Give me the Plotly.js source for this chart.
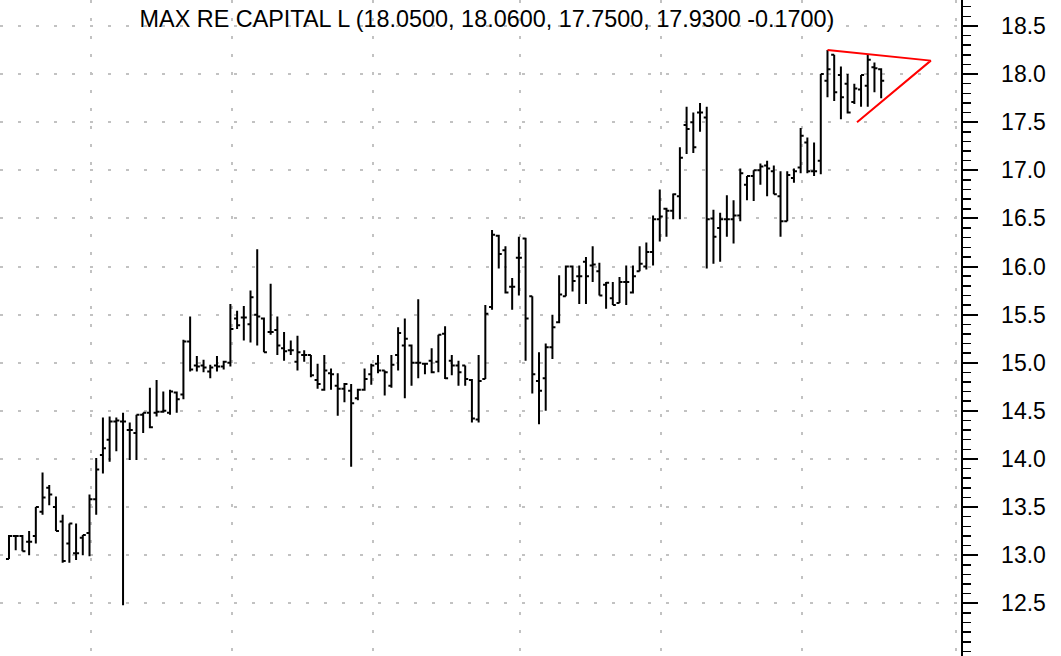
<!DOCTYPE html>
<html>
<head>
<meta charset="utf-8">
<script src="https://cdn.plot.ly/plotly-3.0.1.min.js"></script>
<style>body{margin:0;background:#fff}</style>
</head>
<body>
<div id="plot1" style="width:1061px;height:656px"></div>
<script>
// daily bars, oldest first
let openP = [12.96,13.2,13.2,13.14,13.2,13.45,13.7,13.5,13.35,13.12,
  13.02,13.18,13.23,13.58,14.04,14.2,14.39,14.39,14.3,14.27,
  14.46,14.48,14.48,14.49,14.48,14.69,14.67,15.22,14.97,14.97,
  14.91,14.97,14.96,15.0,15.46, 15.47,15.4,15.5,15.46,15.32,
  15.34,15.15,15.13,15.01,15.08, 15.08,14.82,14.72,14.89,14.76,
  14.73,14.71,14.63,14.72,14.88, 14.99,14.92,14.76,15.08,15.18,
  15.18,15.0,14.99,15.02,15.01, 15.3,15.02,14.97,14.97,14.82,
  14.41,14.83,15.58,16.32,16.17, 15.79,16.09,16.29,15.69,14.81,
  14.84,15.16,15.42,15.69,16.0, 15.9,16.05,16.01,15.95,15.81,
  15.67,15.62,15.84,15.73,15.95, 16.0,16.15,16.49,16.6,16.58,
  16.73,17.47,17.5,17.6,17.55, 16.5,16.4,16.49,16.49,16.53,
  16.85,16.94,17.0,17.05,16.99, 16.73,16.47,16.92,17.03,17.29,
  16.99,17.1,17.93,18.2,17.99, 17.9,17.71,17.84,17.88,18.07,
  18.05];

let highP = [13.21,13.21,13.21,13.25,13.5,13.86,13.73,13.61,13.42,13.33,
  13.33,13.21,13.63,14.01,14.43,14.44,14.43,14.48,14.38,14.46,
  14.48,14.74,14.82,14.7,14.72,14.7,15.24,15.48,15.07,15.03,
  14.98,15.07,15.02,15.61,15.54, 15.59,15.75,16.18,15.47,15.82,
  15.48,15.32,15.23,15.28,15.13, 15.08,14.99,15.08,14.94,14.89,
  14.79,14.78,14.73,14.94,14.99, 15.08,14.92,15.08,15.37,15.46,
  15.19,15.66,15.0,15.15,15.29, 15.38,15.08,15.02,14.97,14.83,
  15.08,15.6,16.38,16.33,16.21, 15.88,16.31,16.3,15.69,15.11,
  15.2,15.5,15.91,16.01,16.01, 16.01,16.1,16.21,16.04,15.84,
  15.84,15.89,16.01,16.01,16.21, 16.25,16.53,16.8,16.61,16.76,
  17.24,17.66,17.6,17.7,17.66, 16.59,16.56,16.74,16.69,17.02,
  16.94,17.0,17.07,17.1,17.05, 16.99,16.99,17.02,17.44,17.34,
  17.29,18.0,18.25,18.2,18.08, 18.0,17.9,17.99,18.2,18.12,
  18.06];

let lowP = [12.96,13.05,13.04,13.0,13.12,13.42,13.52,13.25,12.92,12.92,
  12.95,13.0,12.99,13.42,13.85,13.97,14.08,12.48,13.99,13.99,
  14.27,14.32,14.44,14.48,14.46,14.48,14.62,14.91,14.91,14.9,
  14.84,14.91,14.93,14.96,15.35, 15.23,15.21,15.18,15.11,15.29,
  15.08,15.02,15.08,14.92,15.01, 14.85,14.73,14.71,14.72,14.45,
  14.59,13.92,14.61,14.71,14.77, 14.89,14.66,14.74,14.92,14.63,
  14.76,14.84,14.88,14.89,14.9, 14.83,14.87,14.76,14.76,14.38,
  14.38,14.83,15.55,15.98,15.72, 15.55,15.7,15.02,14.68,14.36,
  14.5,15.04,15.41,15.69,15.74, 15.61,15.61,15.84,15.7,15.56,
  15.6,15.62,15.6,15.72,15.95, 15.97,16.01,16.26,16.31,16.49,
  16.49,17.17,17.18,17.4,15.98, 16.03,16.05,16.31,16.24,16.47,
  16.69,16.68,16.85,16.73,16.75, 16.31,16.47,16.87,16.97,16.97,
  16.94,16.96,17.76,17.72,17.53, 17.59,17.69,17.66,17.66,17.81,
  17.75];

let closeP = [13.2,13.2,13.04,13.14,13.5,13.6,13.63,13.25,12.94,13.33,
  13.02,13.21,13.58,13.89,14.11,14.39,14.4,14.39,14.3,14.46,
  14.48,14.33,14.49,14.5,14.7,14.62,15.22,14.93,14.96,14.95,
  14.95,14.96,15.01,15.35,15.39, 15.47,15.68,15.48,15.11,15.32,
  15.18,15.12,15.13,15.11,15.08, 14.87,14.78,14.92,14.88,14.73,
  14.78,14.58,14.72,14.83,14.97, 14.92,14.9,14.98,15.31,15.25,
  15.0,15.0,14.99,14.9,15.29, 14.84,14.97,14.9,14.83,14.42,
  14.81,15.51,16.33,16.13,15.73, 15.79,16.09,15.46,14.88,14.71,
  15.16,15.37,15.71,16.0,15.85, 15.9,15.9,16.02,15.7,15.83,
  15.6,15.84,15.84,15.9,16.03, 16.15,16.49,16.52,16.58,16.75,
  17.13,17.43,17.24,17.6,16.49, 16.31,16.49,16.49,16.53,16.97,
  16.94,17.0,17.04,17.02,16.75, 16.47,16.95,16.99,17.36,16.99,
  16.99,18.0,18.05,17.81,17.76, 17.6,17.85,17.99,18.15,18.06,
  17.93];

// bar number where each month starts (grid sits just before it)
let monthStarts = [13, 34, 55, 77, 98, 119, 142];

// price labels on the right axis
let priceTicks = [12.5,13.0,13.5,14.0,14.5,15.0,15.5,16.0,16.5,17.0,17.5,18.0,18.5];

// hand drawn triangle: upper line start, apex, lower line start
let triX = [122, 137.4, 126.4];
let triY = [18.25, 18.14, 17.5];

let barNo = openP.map((v, i) => i);
let gridX = monthStarts.map(m => m - 0.8);

let bars = {
  type: "ohlc",
  x: barNo,
  open: openP,
  high: highP,
  low: lowP,
  close: closeP,
  increasing: {line: {color: "black", width: 2}},
  decreasing: {line: {color: "black", width: 2}},
  tickwidth: 0.45,
  hoverinfo: "none"
};

let triangle = {
  type: "scatter",
  mode: "lines",
  x: triX,
  y: triY,
  line: {color: "#ff0000", width: 2},
  hoverinfo: "none"
};

var layout = {
  width: 1061,
  height: 656,
  margin: {l: 0, r: 100, t: 0, b: 0},
  paper_bgcolor: "white",
  plot_bgcolor: "white",
  showlegend: false,
  title: {
    text: "MAX RE CAPITAL L (18.0500, 18.0600, 17.7500, 17.9300 -0.1700)",
    font: {family: "Liberation Sans, Arial, sans-serif", size: 23.4, color: "black"},
    x: 0.459, xanchor: "center",
    y: 0.972, yanchor: "middle"
  },
  xaxis: {
    range: [-1.34, 141.9],
    tickvals: gridX,
    showticklabels: false,
    ticks: "",
    showgrid: true,
    gridcolor: "#c2c2c2",
    gridwidth: 2,
    griddash: "3px,15px",
    zeroline: false,
    showline: false,
    rangeslider: {visible: false},
    fixedrange: true
  },
  yaxis: {
    side: "right",
    range: [11.952, 18.77],
    tickvals: priceTicks,
    tickformat: ".1f",
    ticks: "outside",
    ticklen: 15,
    tickwidth: 2,
    tickcolor: "black",
    ticklabelstandoff: 19,
    tickfont: {family: "Liberation Sans, Arial, sans-serif", size: 23, color: "black"},
    showline: true,
    linecolor: "black",
    linewidth: 1.5,
    showgrid: true,
    gridcolor: "#c2c2c2",
    gridwidth: 2,
    griddash: "3px,15px",
    zeroline: false,
    minor: {
      tick0: 12,
      dtick: 0.1,
      ticks: "outside",
      ticklen: 8,
      tickwidth: 1.5,
      tickcolor: "black",
      showgrid: false
    },
    fixedrange: true
  }
};

Plotly.newPlot("plot1", [bars, triangle], layout, {staticPlot: true});
</script>
</body>
</html>
